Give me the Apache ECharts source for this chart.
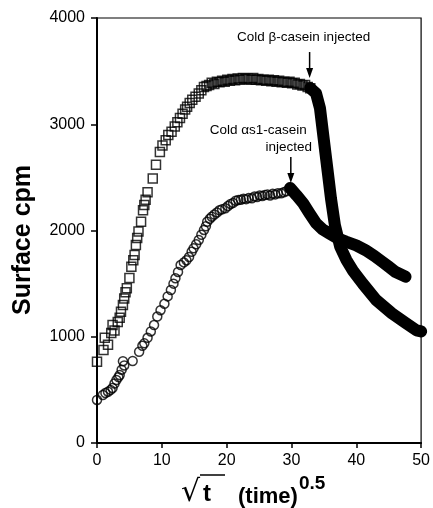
<!DOCTYPE html>
<html>
<head>
<meta charset="utf-8">
<script src="https://cdn.jsdelivr.net/npm/echarts@6/dist/echarts.min.js"></script>
<style>
    html, body { margin: 0; padding: 0; background: #fff; }
    #chart { width: 433px; height: 508px; }
</style>
</head>
<body>
<div id="chart"></div>
<script>
// x = sqrt(time), y = surface cpm
const xTicks = [0, 10, 20, 30, 40, 50];
const yTicks = [0, 1000, 2000, 3000, 4000];

// beta-casein, open squares before the cold injection
const betaPoints = [
    [0, 765], [1.0, 875], [1.2, 990], [1.7, 925], [2.2, 1035], [2.4, 1110], [2.7, 1060],
    [3.2, 1140], [3.5, 1180], [3.7, 1236], [4.0, 1300], [4.2, 1360], [4.4, 1420], [4.6, 1456],
    [5.0, 1553], [5.3, 1660], [5.6, 1720], [5.8, 1770], [6.0, 1864], [6.2, 1930], [6.4, 1990],
    [6.8, 2083], [7.1, 2190], [7.3, 2240], [7.5, 2290], [7.8, 2360], [8.6, 2490], [9.1, 2620],
    [9.7, 2740], [10.1, 2800], [10.6, 2850], [11.0, 2900], [11.5, 2930], [12.0, 2980],
    [12.4, 3020], [12.8, 3060], [13.2, 3100], [13.6, 3140], [13.9, 3165], [14.3, 3200],
    [14.7, 3230], [15.2, 3260], [15.7, 3290], [16.1, 3320], [16.5, 3350], [16.9, 3360],
    [17.3, 3370], [17.7, 3390], [18.1, 3380], [18.5, 3400], [18.9, 3395], [19.3, 3410],
    [19.7, 3400], [20.1, 3420], [20.5, 3410], [20.9, 3425], [21.3, 3415], [21.7, 3430],
    [22.1, 3420], [22.5, 3435], [22.9, 3425], [23.3, 3430], [23.7, 3420], [24.1, 3435],
    [24.5, 3420], [24.9, 3425], [25.3, 3415], [25.7, 3420], [26.1, 3410], [26.5, 3420],
    [26.9, 3405], [27.3, 3415], [27.7, 3400], [28.1, 3410], [28.5, 3395], [28.9, 3400],
    [29.3, 3390], [29.7, 3400], [30.1, 3385], [30.5, 3390], [30.9, 3375], [31.3, 3380],
    [31.7, 3365], [32.1, 3370], [32.5, 3350], [32.9, 3340]
];
// beta-casein after injection (points so dense they merge into a band)
const betaAfter = [
    [32.9, 3340], [33.8, 3290], [34.4, 3150], [35.0, 2850], [35.6, 2550], [36.1, 2300],
    [36.7, 2050], [37.5, 1850], [38.5, 1720], [39.5, 1620], [41.0, 1500], [43.0, 1350],
    [45.5, 1220], [47.6, 1130], [49.3, 1060], [50.0, 1050]
];

// alpha-s1-casein, open circles before the cold injection
const alphaPoints = [
    [0, 405], [0.9, 452], [1.3, 470], [1.7, 483], [2.1, 500], [2.4, 517], [2.7, 560],
    [3.0, 593], [3.3, 620], [3.5, 640], [3.8, 690], [4.0, 770], [4.2, 730], [5.5, 772],
    [6.5, 859], [7.0, 915], [7.3, 938], [7.8, 990], [8.3, 1050], [8.8, 1110], [9.3, 1190],
    [9.8, 1250], [10.4, 1310], [10.9, 1380], [11.4, 1440], [11.8, 1500], [12.1, 1550],
    [12.5, 1610], [12.9, 1675], [13.4, 1700], [13.8, 1720], [14.2, 1750], [14.6, 1800],
    [14.9, 1832], [15.3, 1870], [15.7, 1911], [16.1, 1960], [16.5, 2005], [16.8, 2040],
    [17.0, 2083], [17.4, 2110], [17.7, 2130], [18.1, 2150], [18.5, 2170], [18.9, 2190],
    [19.3, 2200], [19.8, 2210], [20.2, 2230], [20.6, 2250], [21.0, 2260], [21.4, 2280],
    [21.8, 2287], [22.2, 2290], [22.6, 2300], [23.0, 2295], [23.4, 2305], [23.9, 2303],
    [24.3, 2320], [24.7, 2315], [25.1, 2330], [25.5, 2325], [25.9, 2334], [26.3, 2340],
    [26.7, 2330], [27.1, 2345], [27.5, 2340], [27.9, 2350], [28.4, 2350], [28.8, 2360],
    [29.2, 2370], [29.7, 2397]
];
const alphaAfter = [
    [29.8, 2400], [30.8, 2330], [31.8, 2256], [32.8, 2160], [33.8, 2068], [34.8, 2010],
    [35.8, 1974], [37.0, 1930], [38.4, 1895], [40.0, 1860], [41.4, 1816], [42.8, 1760],
    [44.0, 1706], [45.0, 1660], [46.0, 1612], [47.6, 1565]
];

// where the arrows point
const betaInjection = [32.8, 3435];
const alphaInjection = [29.9, 2447];

const chart = echarts.init(document.getElementById('chart'));

const hollow = {
    color: 'rgba(0,0,0,0)',
    borderColor: '#000',
    borderWidth: 1.5,
};
const band = {
    color: '#000',
    width: 12,
    cap: 'round',
    join: 'round',
};

chart.setOption({
    animation: false,
    grid: {
        left: 97,
        right: 9,
        top: 18,
        bottom: 65,
        show: true,
        borderColor: '#000',
        borderWidth: 1.2,
    },
    xAxis: {
        type: 'value',
        min: xTicks[0],
        max: xTicks[xTicks.length - 1],
        interval: 10,
        axisLine: { lineStyle: { color: '#000', width: 2 } },
        axisTick: { length: 5, lineStyle: { color: '#000', width: 1.5 } },
        axisLabel: { color: '#000', fontFamily: 'Liberation Sans', fontSize: 16, margin: 10, formatter: v => String(v) },
        splitLine: { show: false },
    },
    yAxis: {
        type: 'value',
        min: yTicks[0],
        max: yTicks[yTicks.length - 1],
        interval: 1000,
        axisLine: { show: true, lineStyle: { color: '#000', width: 2 } },
        axisTick: { show: true, length: 6, lineStyle: { color: '#000', width: 1.5 } },
        axisLabel: { color: '#000', fontFamily: 'Liberation Sans', fontSize: 16, margin: 12, formatter: v => String(v) },
        splitLine: { show: false },
    },
    series: [
        {
            type: 'line',
            data: betaAfter,
            showSymbol: false,
            lineStyle: band,
        },
        {
            type: 'line',
            data: alphaAfter,
            showSymbol: false,
            lineStyle: band,
        },
        {
            type: 'scatter',
            data: betaPoints,
            symbol: 'rect',
            symbolSize: 9,
            itemStyle: hollow,
        },
        {
            type: 'scatter',
            data: alphaPoints,
            symbol: 'circle',
            symbolSize: 9,
            itemStyle: hollow,
        },
    ],
});

const annFont = '13.5px "Liberation Sans"';

function arrow(tip) {
    return [
        {
            type: 'line',
            shape: { x1: tip[0], y1: tip[1] - 26, x2: tip[0], y2: tip[1] - 8 },
            style: { stroke: '#000', lineWidth: 1.5 },
        },
        {
            type: 'polygon',
            shape: { points: [[tip[0] - 3.5, tip[1] - 10], [tip[0] + 3.5, tip[1] - 10], [tip[0], tip[1]]] },
            style: { fill: '#000' },
        },
    ];
}

const bTip = chart.convertToPixel({ gridIndex: 0 }, betaInjection);
const aTip = chart.convertToPixel({ gridIndex: 0 }, alphaInjection);

chart.setOption({
    graphic: [
        ...arrow(bTip),
        ...arrow(aTip),
        {
            type: 'text',
            style: { text: 'Cold β-casein injected', x: bTip[0] - 6, y: bTip[1] - 41, font: annFont, fill: '#000', align: 'center', verticalAlign: 'middle' },
        },
        {
            type: 'text',
            style: { text: 'Cold αs1-casein', x: aTip[0] + 16, y: aTip[1] - 53, font: annFont, fill: '#000', align: 'right', verticalAlign: 'middle' },
        },
        {
            type: 'text',
            style: { text: 'injected', x: aTip[0] - 2, y: aTip[1] - 36, font: annFont, fill: '#000', align: 'center', verticalAlign: 'middle' },
        },
        // y axis title
        {
            type: 'text',
            x: 23,
            y: 240,
            rotation: Math.PI / 2,
            style: { text: 'Surface cpm', font: 'bold 25px "Liberation Sans"', fill: '#000', align: 'center', verticalAlign: 'middle' },
        },
        // x axis title: sqrt(t) (time)^0.5
        {
            type: 'text',
            style: { text: '√', x: 181, y: 508, font: '30px "DejaVu Sans"', fill: '#000', align: 'left', verticalAlign: 'bottom' },
        },
        {
            type: 'line',
            shape: { x1: 200, y1: 475, x2: 225, y2: 475 },
            style: { stroke: '#000', lineWidth: 1.5 },
        },
        {
            type: 'text',
            style: { text: 't', x: 203, y: 506, font: 'bold 24px "Liberation Sans"', fill: '#000', align: 'left', verticalAlign: 'bottom' },
        },
        {
            type: 'text',
            style: { text: '(time)', x: 238, y: 508, font: 'bold 22px "Liberation Sans"', fill: '#000', align: 'left', verticalAlign: 'bottom' },
        },
        {
            type: 'text',
            style: { text: '0.5', x: 299, y: 474, font: 'bold 19px "Liberation Sans"', fill: '#000', align: 'left', verticalAlign: 'top' },
        },
    ],
});
</script>
</body>
</html>
